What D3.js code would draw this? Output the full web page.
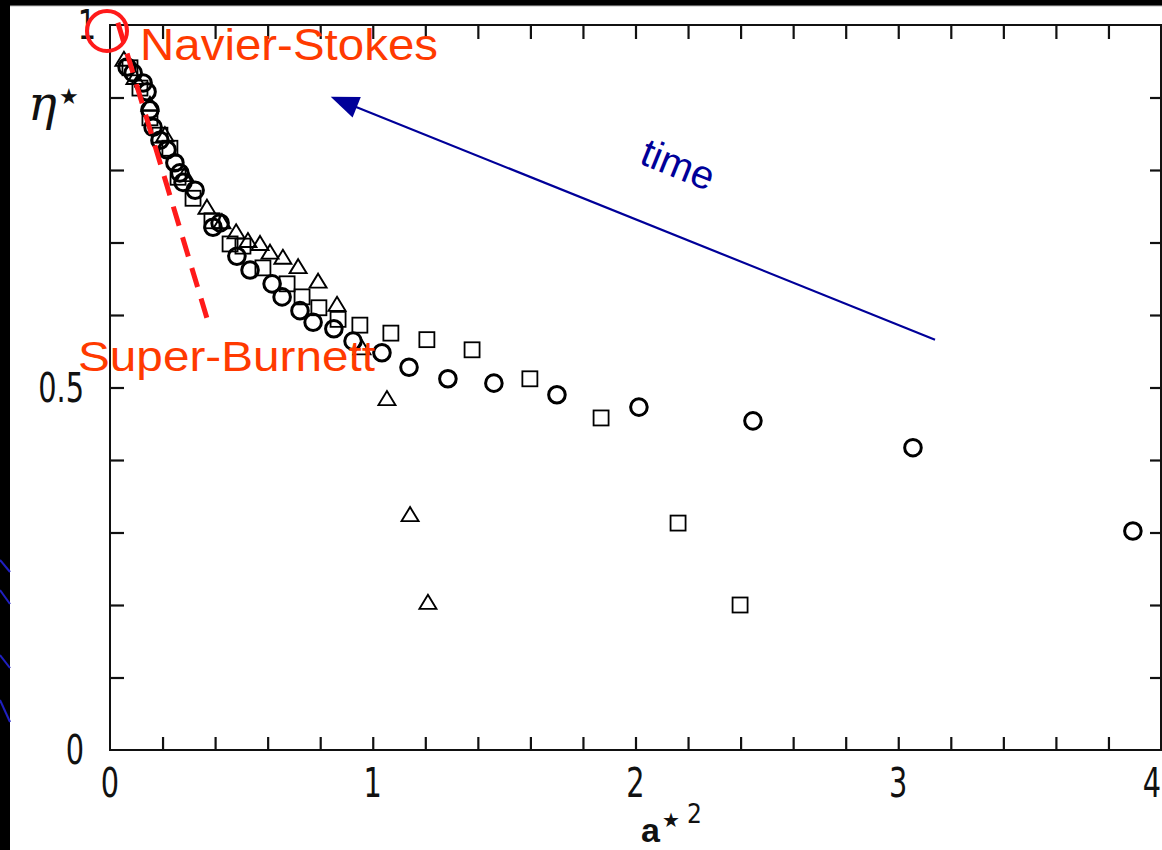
<!DOCTYPE html>
<html lang="en">
<head>
  <meta charset="UTF-8">
  <title>Viscosity vs shear rate</title>
  <script src="https://d3js.org/d3.v7.min.js"></script>
  <style>
    body { margin: 0; background: #000; }
    .tick-label { font-family: 'DejaVu Sans Condensed', 'Liberation Sans Narrow', sans-serif; font-size: 40px; fill: #111; }
    .note { font-family: 'Liberation Sans', Arial, sans-serif; fill: #ff3a00; }
  </style>
</head>
<body>
  <svg width="1162" height="850"></svg>

  <script>
    // eta* vs a*^2, three runs (circles, squares, triangles)
    const circles = [
      [0.065, 0.942], [0.088, 0.934], [0.126, 0.920], [0.141, 0.908], [0.152, 0.883],
      [0.164, 0.859], [0.190, 0.841], [0.217, 0.828], [0.247, 0.810], [0.266, 0.796],
      [0.278, 0.783], [0.324, 0.772], [0.392, 0.721], [0.419, 0.727], [0.483, 0.681],
      [0.533, 0.662], [0.617, 0.643], [0.655, 0.625], [0.723, 0.606], [0.773, 0.590],
      [0.852, 0.581], [0.925, 0.564], [1.035, 0.548], [1.138, 0.528], [1.286, 0.512],
      [1.461, 0.506], [1.701, 0.490], [2.013, 0.473], [2.447, 0.454], [3.056, 0.417],
      [3.893, 0.302]
    ];
    const squares = [
      [0.076, 0.941], [0.114, 0.913], [0.152, 0.872], [0.190, 0.848], [0.228, 0.830],
      [0.259, 0.790], [0.316, 0.761], [0.388, 0.730], [0.457, 0.698], [0.506, 0.695],
      [0.582, 0.665], [0.674, 0.643], [0.731, 0.625], [0.795, 0.610], [0.868, 0.594],
      [0.951, 0.586], [1.069, 0.575], [1.206, 0.566], [1.378, 0.552], [1.598, 0.512],
      [1.869, 0.458], [2.162, 0.313], [2.398, 0.200]
    ];
    const triangles = [
      [0.053, 0.952], [0.095, 0.927], [0.152, 0.890], [0.209, 0.848], [0.285, 0.793],
      [0.369, 0.748], [0.426, 0.728], [0.480, 0.714], [0.525, 0.702], [0.571, 0.698],
      [0.609, 0.686], [0.658, 0.679], [0.716, 0.666], [0.792, 0.646], [0.864, 0.614],
      [0.959, 0.554], [1.054, 0.484], [1.142, 0.324], [1.210, 0.203]
    ];

    const xMajor = [0, 1, 2, 3, 4];
    const yMajor = [0, 0.5, 1];
    const xMinor = d3.range(1, 20).map(i => i * 0.2);
    const yMinor = d3.range(1, 10).map(i => i * 0.1);

    // Super-Burnett dashed line (start, end) and the "time" arrow (tail, head)
    const burnettLine = [[0.03, 1.003], [0.377, 0.586]];
    const timeArrow = [[3.14, 0.566], [0.84, 0.901]];

    const svg = d3.select("svg");
    const x = d3.scaleLinear().domain([0, 4]).range([110, 1161]);
    const y = d3.scaleLinear().domain([0, 1]).range([750, 25]);

    // slide background
    svg.append("rect").attr("x", 10).attr("y", 6).attr("width", 1152).attr("height", 844).attr("fill", "#fff");
    svg.append("line").attr("x1", 10).attr("x2", 1162).attr("y1", 6).attr("y2", 6).attr("stroke", "#bbb");
    [[560, 572], [590, 604], [655, 668], [700, 722]].forEach(d => {
      svg.append("line").attr("x1", 0).attr("x2", 10).attr("y1", d[0]).attr("y2", d[1])
        .attr("stroke", "#2020c0").attr("stroke-width", 2);
    });

    // frame + inward ticks
    const g = svg.append("g");
    g.append("rect")
      .attr("x", x(0)).attr("y", y(1))
      .attr("width", x(4) - x(0)).attr("height", y(0) - y(1))
      .attr("fill", "none").attr("stroke", "#111").attr("stroke-width", 2);

    const tickStyle = sel => {
      sel.select(".domain").remove();
      sel.selectAll(".tick line").attr("stroke", "#111").attr("stroke-width", 2.2);
      sel.selectAll(".tick text").remove();
    };
    g.append("g").attr("transform", `translate(0,${y(0)})`)
      .call(d3.axisBottom(x).tickValues(xMinor).tickSize(-13)).call(tickStyle);
    g.append("g").attr("transform", `translate(0,${y(1)})`)
      .call(d3.axisTop(x).tickValues(xMinor).tickSize(-14)).call(tickStyle);
    g.append("g").attr("transform", `translate(${x(0)},0)`)
      .call(d3.axisLeft(y).tickValues(yMinor).tickSize(-14)).call(tickStyle);
    g.append("g").attr("transform", `translate(${x(4)},0)`)
      .call(d3.axisRight(y).tickValues(yMinor).tickSize(-11)).call(tickStyle);

    // tick labels (squeezed to look like the narrow scan font)
    g.selectAll(".xl").data(xMajor).enter().append("text")
      .attr("class", "tick-label")
      .attr("transform", d => `translate(${Math.min(x(d), 1152)},797) scale(0.8,1)`)
      .attr("text-anchor", "middle")
      .text(d => d);
    g.selectAll(".yl").data(yMajor).enter().append("text")
      .attr("class", "tick-label")
      .attr("transform", d => `translate(${d === 1 ? 96 : 84},${y(d) + 14}) scale(0.8,1)`)
      .attr("text-anchor", "end")
      .text(d => d);

    // axis titles
    const yt = svg.append("text").attr("x", 28).attr("y", 120)
      .attr("font-family", "'DejaVu Serif', serif").attr("font-style", "italic")
      .attr("font-size", 48).attr("fill", "#111");
    yt.append("tspan").text("η");
    yt.append("tspan").attr("dx", 2).attr("dy", -16).attr("font-size", 22).attr("font-style", "normal").text("★");

    const xt = svg.append("text").attr("x", 641).attr("y", 842)
      .attr("font-family", "'Liberation Sans', Arial, sans-serif").attr("fill", "#111");
    xt.append("tspan").attr("font-size", 34).attr("font-weight", "bold").text("a");
    xt.append("tspan").attr("dx", 2).attr("dy", -15).attr("font-size", 20).text("★");
    xt.append("tspan").attr("dx", 7).attr("dy", -4)
      .attr("font-family", "'DejaVu Sans Condensed', sans-serif").attr("font-size", 26).text("2");

    // data markers
    const marks = svg.append("g").attr("fill", "none").attr("stroke", "#000");
    marks.selectAll(".c").data(circles).enter().append("circle")
      .attr("cx", d => x(d[0])).attr("cy", d => y(d[1]))
      .attr("r", 8.3).attr("stroke-width", 3);
    marks.selectAll(".s").data(squares).enter().append("rect")
      .attr("x", d => x(d[0]) - 7.5).attr("y", d => y(d[1]) - 7.5)
      .attr("width", 15).attr("height", 15).attr("stroke-width", 1.8);
    marks.selectAll(".t").data(triangles).enter().append("path")
      .attr("d", "M0,-8L8.5,6L-8.5,6Z")
      .attr("transform", d => `translate(${x(d[0])},${y(d[1])})`)
      .attr("stroke-width", 1.9);

    // annotations
    svg.append("line")
      .attr("x1", x(burnettLine[0][0])).attr("y1", y(burnettLine[0][1]))
      .attr("x2", x(burnettLine[1][0])).attr("y2", y(burnettLine[1][1]))
      .attr("stroke", "#ff1a1a").attr("stroke-width", 5)
      .attr("stroke-dasharray", "20,12");

    svg.append("circle").attr("cx", x(0) - 3).attr("cy", y(1) + 6).attr("r", 20)
      .attr("fill", "none").attr("stroke", "#ff1a1a").attr("stroke-width", 4);

    svg.append("text").attr("class", "note")
      .attr("x", 140).attr("y", 60).attr("font-size", 44)
      .attr("textLength", 298).attr("lengthAdjust", "spacingAndGlyphs")
      .text("Navier-Stokes");
    svg.append("text").attr("class", "note")
      .attr("x", 78).attr("y", 371).attr("font-size", 42)
      .attr("textLength", 297).attr("lengthAdjust", "spacingAndGlyphs")
      .text("Super-Burnett");

    const ax1 = x(timeArrow[0][0]), ay1 = y(timeArrow[0][1]);
    const ax2 = x(timeArrow[1][0]), ay2 = y(timeArrow[1][1]);
    const ang = Math.atan2(ay2 - ay1, ax2 - ax1);
    svg.append("line")
      .attr("x1", ax1).attr("y1", ay1)
      .attr("x2", ax2 - 20 * Math.cos(ang)).attr("y2", ay2 - 20 * Math.sin(ang))
      .attr("stroke", "#000099").attr("stroke-width", 2.2);
    svg.append("path")
      .attr("d", "M0,0L-28,-11L-28,11Z")
      .attr("transform", `translate(${ax2},${ay2}) rotate(${ang * 180 / Math.PI})`)
      .attr("fill", "#000099");

    svg.append("text")
      .attr("transform", "translate(638,163) rotate(21.9)")
      .attr("font-family", "'Liberation Sans', Arial, sans-serif")
      .attr("font-size", 40).attr("fill", "#000099")
      .text("time");
  </script>
</body>
</html>
